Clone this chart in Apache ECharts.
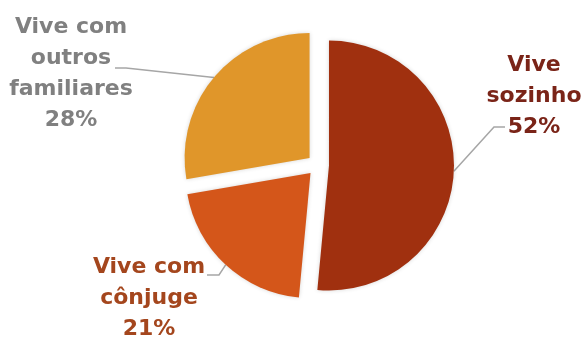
<!DOCTYPE html>
<html>
<head>
<meta charset="utf-8">
<script src="https://cdn.jsdelivr.net/npm/echarts@6/dist/echarts.min.js"></script>
<style>
  html, body { margin: 0; padding: 0; background: #ffffff; }
  #chart { width: 585px; height: 341px; }
</style>
</head>
<body>
<div id="chart"></div>
<script>
// Household situation shares (%)
const categories = ['Vive sozinho', 'Vive com cônjuge', 'Vive com outros familiares'];
const labelText = [
  ['Vive', 'sozinho'],
  ['Vive com', 'cônjuge'],
  ['Vive com', 'outros', 'familiares']
];
const shares = [52, 21, 28];
const sliceColors = ['#A0300F', '#D4561A', '#E0962A'];
const labelColors = ['#7A2418', '#A4461D', '#808080'];

// Where each label block sits and how its leader line bends
const labelPlacement = [
  { x: 534, y: 96,  bend: [494, 127], end: [505, 127] },
  { x: 149, y: 298, bend: [219, 275], end: [207, 275] },
  { x: 71,  y: 74,  bend: [126, 68],  end: [115, 68] }
];

const PIE_CENTER = [318, 165];
const PIE_RADIUS = 125;
const EXPLODE = 11;

// Each slice is pulled out along its own bisector (same angle maths as the pie layout)
const total = shares.reduce((a, b) => a + b, 0);
const sliceOffsets = [];
let angle = -Math.PI / 2;
shares.forEach(v => {
  const span = v / total * Math.PI * 2;
  const mid = angle + span / 2;
  sliceOffsets.push([Math.cos(mid) * EXPLODE, Math.sin(mid) * EXPLODE]);
  angle += span;
});

// One pie layer per slice so every slice gets its own exploded centre;
// the other slices of the layer are left unpainted.
const series = shares.map((_, k) => ({
  type: 'pie',
  name: categories[k],
  center: [PIE_CENTER[0] + sliceOffsets[k][0], PIE_CENTER[1] + sliceOffsets[k][1]],
  radius: PIE_RADIUS,
  startAngle: 90,
  clockwise: true,
  silent: true,
  avoidLabelOverlap: false,
  emphasis: { disabled: true },
  label: {
    position: 'outside',
    fontFamily: 'DejaVu Sans',
    fontWeight: 'bold',
    fontSize: 22,
    lineHeight: 31,
    align: 'center',
    formatter: p => labelText[p.dataIndex].join('\n') + '\n' + p.value + '%'
  },
  labelLine: {
    length: 10,
    length2: 10,
    lineStyle: { color: '#A6A6A6', width: 1.5 }
  },
  labelLayout: params => {
    const pl = labelPlacement[params.dataIndex];
    const pts = params.labelLinePoints;
    return {
      x: pl.x,
      y: pl.y,
      align: 'center',
      verticalAlign: 'middle',
      labelLinePoints: [pts ? pts[0] : pl.bend, pl.bend, pl.end]
    };
  },
  data: shares.map((v, i) => ({
    value: v,
    name: categories[i],
    itemStyle: i === k
      ? { color: sliceColors[i], shadowBlur: 4, shadowColor: 'rgba(0,0,0,0.16)' }
      : { color: 'rgba(0,0,0,0)' },
    label: { show: i === k, color: labelColors[i] },
    labelLine: { show: i === k }
  }))
}));

const chart = echarts.init(document.getElementById('chart'), null, { renderer: 'canvas' });
chart.setOption({
  animation: false,
  backgroundColor: '#ffffff',
  series: series
});
</script>
</body>
</html>
